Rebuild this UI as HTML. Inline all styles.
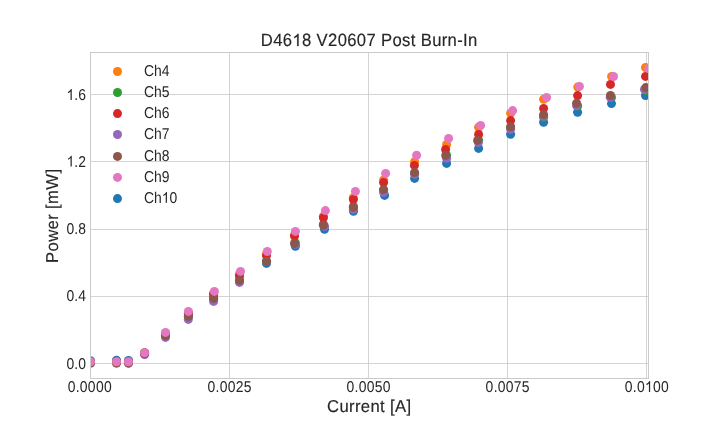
<!DOCTYPE html>
<html><head><meta charset="utf-8"><title>chart</title><style>
html,body{margin:0;padding:0;background:#fff;}
svg{display:block;font-family:"Liberation Sans",sans-serif;will-change:transform;transform:translateZ(0);}
text{fill:#262626;text-rendering:geometricPrecision;}
.b{stroke:#262626;stroke-width:0.15px;}
.h{fill:none;stroke:none;}
</style></head><body>
<svg width="720" height="432" viewBox="0 0 720 432">
<rect width="720" height="432" fill="#ffffff"/>
<defs><clipPath id="ax"><rect x="90.5" y="52.5" width="557.6" height="326"/></clipPath></defs>
<g stroke="#cccccc" stroke-width="1" stroke-opacity="0.84" fill="none">
<line x1="90.5" y1="52.5" x2="90.5" y2="378.5"/>
<line x1="229.5" y1="52.5" x2="229.5" y2="378.5"/>
<line x1="368.5" y1="52.5" x2="368.5" y2="378.5"/>
<line x1="507.5" y1="52.5" x2="507.5" y2="378.5"/>
<line x1="646.5" y1="52.5" x2="646.5" y2="378.5"/>
<line x1="90.5" y1="363.5" x2="648.5" y2="363.5"/>
<line x1="90.5" y1="296.5" x2="648.5" y2="296.5"/>
<line x1="90.5" y1="229.5" x2="648.5" y2="229.5"/>
<line x1="90.5" y1="161.5" x2="648.5" y2="161.5"/>
<line x1="90.5" y1="94.5" x2="648.5" y2="94.5"/>
</g>
<g clip-path="url(#ax)">
<g fill="#1f77b4">
<circle cx="90.5" cy="360.75" r="4.5"/>
<circle cx="116.5" cy="360.3" r="4.5"/>
<circle cx="128.5" cy="360.5" r="4.5"/>
<circle cx="144.6" cy="353" r="4.5"/>
<circle cx="165.5" cy="335" r="4.5"/>
<circle cx="188.4" cy="316.5" r="4.5"/>
<circle cx="213.6" cy="298.5" r="4.5"/>
<circle cx="239.5" cy="281" r="4.5"/>
<circle cx="266.5" cy="263.4" r="4.5"/>
<circle cx="295.4" cy="246.3" r="4.5"/>
<circle cx="324.5" cy="229.3" r="4.5"/>
<circle cx="353.5" cy="211.3" r="4.5"/>
<circle cx="384.6" cy="195.4" r="4.5"/>
<circle cx="414.6" cy="178.4" r="4.5"/>
<circle cx="446.6" cy="163.4" r="4.5"/>
<circle cx="478.6" cy="148.4" r="4.5"/>
<circle cx="510.6" cy="134.3" r="4.5"/>
<circle cx="543.6" cy="122.3" r="4.5"/>
<circle cx="577.6" cy="112.3" r="4.5"/>
<circle cx="611.5" cy="103.6" r="4.5"/>
<circle cx="645.5" cy="95.5" r="4.5"/>
</g>
<g fill="#ff7f0e">
<circle cx="90.5" cy="361.8" r="4.5"/>
<circle cx="116.5" cy="361.8" r="4.5"/>
<circle cx="128.5" cy="361.8" r="4.5"/>
<circle cx="144.6" cy="353" r="4.5"/>
<circle cx="165.5" cy="333.5" r="4.5"/>
<circle cx="188.4" cy="313" r="4.5"/>
<circle cx="213.5" cy="293.5" r="4.5"/>
<circle cx="239.3" cy="274.5" r="4.5"/>
<circle cx="266.3" cy="254.5" r="4.5"/>
<circle cx="294.5" cy="235" r="4.5"/>
<circle cx="323.4" cy="216.3" r="4.5"/>
<circle cx="353.3" cy="197.8" r="4.5"/>
<circle cx="383.6" cy="180" r="4.5"/>
<circle cx="414.6" cy="161.8" r="4.5"/>
<circle cx="446.6" cy="144.4" r="4.5"/>
<circle cx="478.6" cy="127.2" r="4.5"/>
<circle cx="510.6" cy="113.3" r="4.5"/>
<circle cx="543.6" cy="99.2" r="4.5"/>
<circle cx="577.7" cy="87.1" r="4.5"/>
<circle cx="611.6" cy="76.5" r="4.5"/>
<circle cx="645.5" cy="67.5" r="4.5"/>
</g>
<g fill="#2ca02c">
<circle cx="90.5" cy="361.8" r="4.5"/>
<circle cx="116.5" cy="361.8" r="4.5"/>
<circle cx="128.5" cy="361.8" r="4.5"/>
<circle cx="144.6" cy="353" r="4.5"/>
<circle cx="165.5" cy="335" r="4.5"/>
<circle cx="188.4" cy="316" r="4.5"/>
<circle cx="213.6" cy="298" r="4.5"/>
<circle cx="239.5" cy="280.4" r="4.5"/>
<circle cx="266.5" cy="261" r="4.5"/>
<circle cx="295.3" cy="242.7" r="4.5"/>
<circle cx="323.4" cy="224.3" r="4.5"/>
<circle cx="353.4" cy="206.4" r="4.5"/>
<circle cx="383.6" cy="190" r="4.5"/>
<circle cx="414.6" cy="173" r="4.5"/>
<circle cx="446.6" cy="155.5" r="4.5"/>
<circle cx="478.6" cy="140.2" r="4.5"/>
<circle cx="510.6" cy="127.8" r="4.5"/>
<circle cx="543.6" cy="117.4" r="4.5"/>
<circle cx="577.7" cy="106" r="4.5"/>
<circle cx="611.5" cy="97.5" r="4.5"/>
<circle cx="646" cy="90.5" r="4.5"/>
</g>
<g fill="#d62728">
<circle cx="90.5" cy="361.8" r="4.5"/>
<circle cx="116.5" cy="361.8" r="4.5"/>
<circle cx="128.5" cy="361.8" r="4.5"/>
<circle cx="144.6" cy="353" r="4.5"/>
<circle cx="165.5" cy="334" r="4.5"/>
<circle cx="188.4" cy="313.5" r="4.5"/>
<circle cx="213.6" cy="294.5" r="4.5"/>
<circle cx="239.5" cy="275.9" r="4.5"/>
<circle cx="266.5" cy="255.6" r="4.5"/>
<circle cx="294.5" cy="236.1" r="4.5"/>
<circle cx="323.4" cy="217.8" r="4.5"/>
<circle cx="353.4" cy="199.5" r="4.5"/>
<circle cx="383.6" cy="182.6" r="4.5"/>
<circle cx="414.4" cy="165.4" r="4.5"/>
<circle cx="445.6" cy="149.5" r="4.5"/>
<circle cx="478.6" cy="134.4" r="4.5"/>
<circle cx="510.6" cy="120.6" r="4.5"/>
<circle cx="543.6" cy="108.4" r="4.5"/>
<circle cx="577.6" cy="95.6" r="4.5"/>
<circle cx="610.5" cy="84.4" r="4.5"/>
<circle cx="645.5" cy="76.4" r="4.5"/>
</g>
<g fill="#9467bd">
<circle cx="90.5" cy="363" r="4.5"/>
<circle cx="116.5" cy="363.1" r="4.5"/>
<circle cx="128.5" cy="363.4" r="4.5"/>
<circle cx="144.6" cy="354.45" r="4.5"/>
<circle cx="165.5" cy="337.4" r="4.5"/>
<circle cx="188.3" cy="319.4" r="4.5"/>
<circle cx="213.6" cy="301.4" r="4.5"/>
<circle cx="239.5" cy="282.4" r="4.5"/>
<circle cx="266.5" cy="261.6" r="4.5"/>
<circle cx="295.5" cy="244.3" r="4.5"/>
<circle cx="324.6" cy="226.4" r="4.5"/>
<circle cx="353.4" cy="209.3" r="4.5"/>
<circle cx="383.6" cy="192.4" r="4.5"/>
<circle cx="414.6" cy="174.3" r="4.5"/>
<circle cx="446.6" cy="158.2" r="4.5"/>
<circle cx="478.4" cy="142.4" r="4.5"/>
<circle cx="510.6" cy="129.3" r="4.5"/>
<circle cx="543.6" cy="116.3" r="4.5"/>
<circle cx="576.6" cy="105.7" r="4.5"/>
<circle cx="610.3" cy="97.2" r="4.5"/>
<circle cx="644.5" cy="89.4" r="4.5"/>
</g>
<g fill="#8c564b">
<circle cx="90.5" cy="363" r="4.5"/>
<circle cx="116.5" cy="363.1" r="4.5"/>
<circle cx="128.5" cy="362.8" r="4.5"/>
<circle cx="144.6" cy="353.75" r="4.5"/>
<circle cx="165.5" cy="335.5" r="4.5"/>
<circle cx="188.4" cy="316.4" r="4.5"/>
<circle cx="213.6" cy="298.3" r="4.5"/>
<circle cx="239.5" cy="280.4" r="4.5"/>
<circle cx="266.5" cy="261.6" r="4.5"/>
<circle cx="294.5" cy="243.5" r="4.5"/>
<circle cx="323.4" cy="225.2" r="4.5"/>
<circle cx="353.4" cy="207.3" r="4.5"/>
<circle cx="383.6" cy="189.6" r="4.5"/>
<circle cx="414.6" cy="172.6" r="4.5"/>
<circle cx="445.7" cy="155.4" r="4.5"/>
<circle cx="477.6" cy="140.4" r="4.5"/>
<circle cx="510.6" cy="126.7" r="4.5"/>
<circle cx="543.6" cy="114.6" r="4.5"/>
<circle cx="576.6" cy="103.3" r="4.5"/>
<circle cx="610.5" cy="95.5" r="4.5"/>
<circle cx="645.75" cy="87.6" r="4.5"/>
</g>
<g fill="#e377c2">
<circle cx="90.5" cy="361.8" r="4.5"/>
<circle cx="116.5" cy="361.8" r="4.5"/>
<circle cx="128.5" cy="361.8" r="4.5"/>
<circle cx="144.6" cy="352.7" r="4.5"/>
<circle cx="165.5" cy="332.4" r="4.5"/>
<circle cx="188.4" cy="311.4" r="4.5"/>
<circle cx="214.4" cy="291.4" r="4.5"/>
<circle cx="240.5" cy="271.4" r="4.5"/>
<circle cx="267.3" cy="251.5" r="4.5"/>
<circle cx="295.4" cy="231.4" r="4.5"/>
<circle cx="325.4" cy="210.6" r="4.5"/>
<circle cx="355.4" cy="191.4" r="4.5"/>
<circle cx="385.6" cy="173.4" r="4.5"/>
<circle cx="416.6" cy="155.3" r="4.5"/>
<circle cx="448.6" cy="138.4" r="4.5"/>
<circle cx="480.6" cy="125.4" r="4.5"/>
<circle cx="512.6" cy="110.6" r="4.5"/>
<circle cx="546.6" cy="97.5" r="4.5"/>
<circle cx="579.4" cy="86.4" r="4.5"/>
<circle cx="613.5" cy="76.5" r="4.5"/>
<circle cx="648.7" cy="68.5" r="4.5"/>
</g>
</g>
<rect x="90.5" y="52.5" width="558" height="326" fill="none" stroke="#cacaca" stroke-width="1" stroke-opacity="1"/>
<text id="t1" transform="translate(89.65,391.9) scale(1,1.13)" font-size="13.9px" text-anchor="middle" textLength="44" lengthAdjust="spacing">0.0000</text>
<text id="t2" transform="translate(229.55,391.9) scale(1,1.13)" font-size="13.9px" text-anchor="middle" textLength="44" lengthAdjust="spacing">0.0025</text>
<text id="t3" transform="translate(368.5,391.9) scale(1,1.13)" font-size="13.9px" text-anchor="middle" textLength="44" lengthAdjust="spacing">0.0050</text>
<text id="t4" transform="translate(507.6,391.9) scale(1,1.13)" font-size="13.9px" text-anchor="middle" textLength="44" lengthAdjust="spacing">0.0075</text>
<text id="t5" transform="translate(646.75,391.9) scale(1,1.13)" font-size="13.9px" text-anchor="middle" textLength="44" lengthAdjust="spacing">0.0<tspan class="h">1</tspan>00</text>
<path transform="translate(646.75,391.9) scale(1,1.13) translate(-1.791,0.000) scale(0.006787,-0.006497)" d="M763 0H583V1147Q518 1085 412.5 1023T223 930V1104Q374 1175 487 1276T647 1472H763Z" fill="#262626" stroke="#262626" stroke-width="0"/>
<text id="t6" transform="translate(85.9,368.9) scale(1,1.13)" font-size="13.9px" text-anchor="end">0.0</text>
<text id="t7" transform="translate(85.9,301.4) scale(1,1.13)" font-size="13.9px" text-anchor="end">0.4</text>
<text id="t8" transform="translate(85.9,233.9) scale(1,1.13)" font-size="13.9px" text-anchor="end">0.8</text>
<text id="t9" transform="translate(85.9,166.5) scale(1,1.13)" font-size="13.9px" text-anchor="end"><tspan class="h">1</tspan>.2</text>
<path transform="translate(85.9,166.5) scale(1,1.13) translate(-19.328,0.000) scale(0.006787,-0.006497)" d="M763 0H583V1147Q518 1085 412.5 1023T223 930V1104Q374 1175 487 1276T647 1472H763Z" fill="#262626" stroke="#262626" stroke-width="0"/>
<text id="t10" transform="translate(85.9,99.9) scale(1,1.13)" font-size="13.9px" text-anchor="end"><tspan class="h">1</tspan>.6</text>
<path transform="translate(85.9,99.9) scale(1,1.13) translate(-19.328,0.000) scale(0.006787,-0.006497)" d="M763 0H583V1147Q518 1085 412.5 1023T223 930V1104Q374 1175 487 1276T647 1472H763Z" fill="#262626" stroke="#262626" stroke-width="0"/>
<text id="t11" class="b" transform="translate(369.1,411.9) scale(1,1.03)" font-size="16.67px" text-anchor="middle" textLength="84" lengthAdjust="spacing">Current [A]</text>
<text id="t12" class="b" transform="translate(58,215.95) rotate(-90) scale(1,1.03)" font-size="16.67px" text-anchor="middle" textLength="94" lengthAdjust="spacing">Power [mW]</text>
<text id="t13" class="b" transform="translate(369.1,46) scale(1,1.07)" font-size="16.67px" text-anchor="middle" textLength="216.5" lengthAdjust="spacing">D46<tspan class="h">1</tspan>8 V20607 Post Burn-In</text>
<path transform="translate(369.1,46) scale(1,1.07) translate(-76.686,0.000) scale(0.008140,-0.007791)" d="M763 0H583V1147Q518 1085 412.5 1023T223 930V1104Q374 1175 487 1276T647 1472H763Z" fill="#262626" stroke="#262626" stroke-width="18.4283"/>
<circle cx="117.5" cy="71.55" r="4.5" fill="#ff7f0e"/>
<text id="t14" transform="translate(144,75.95) scale(1,1.13)" font-size="13.9px" text-anchor="start">Ch4</text>
<circle cx="117.5" cy="92.5" r="4.5" fill="#2ca02c"/>
<text id="t15" transform="translate(144,97) scale(1,1.13)" font-size="13.9px" text-anchor="start">Ch5</text>
<circle cx="117.5" cy="113.6" r="4.5" fill="#d62728"/>
<text id="t16" transform="translate(144,117.85) scale(1,1.13)" font-size="13.9px" text-anchor="start">Ch6</text>
<circle cx="117.5" cy="134.5" r="4.5" fill="#9467bd"/>
<text id="t17" transform="translate(144,138.7) scale(1,1.13)" font-size="13.9px" text-anchor="start">Ch7</text>
<circle cx="117.5" cy="156.4" r="4.5" fill="#8c564b"/>
<text id="t18" transform="translate(144,161) scale(1,1.13)" font-size="13.9px" text-anchor="start">Ch8</text>
<circle cx="117.5" cy="177.4" r="4.5" fill="#e377c2"/>
<text id="t19" transform="translate(144,181.8) scale(1,1.13)" font-size="13.9px" text-anchor="start">Ch9</text>
<circle cx="117.5" cy="198.6" r="4.5" fill="#1f77b4"/>
<text id="t20" transform="translate(144,202.8) scale(1,1.13)" font-size="13.9px" text-anchor="start">Ch<tspan class="h">1</tspan>0</text>
<path transform="translate(144,202.8) scale(1,1.13) translate(17.766,0.000) scale(0.006787,-0.006497)" d="M763 0H583V1147Q518 1085 412.5 1023T223 930V1104Q374 1175 487 1276T647 1472H763Z" fill="#262626" stroke="#262626" stroke-width="0"/>
</svg></body></html>
